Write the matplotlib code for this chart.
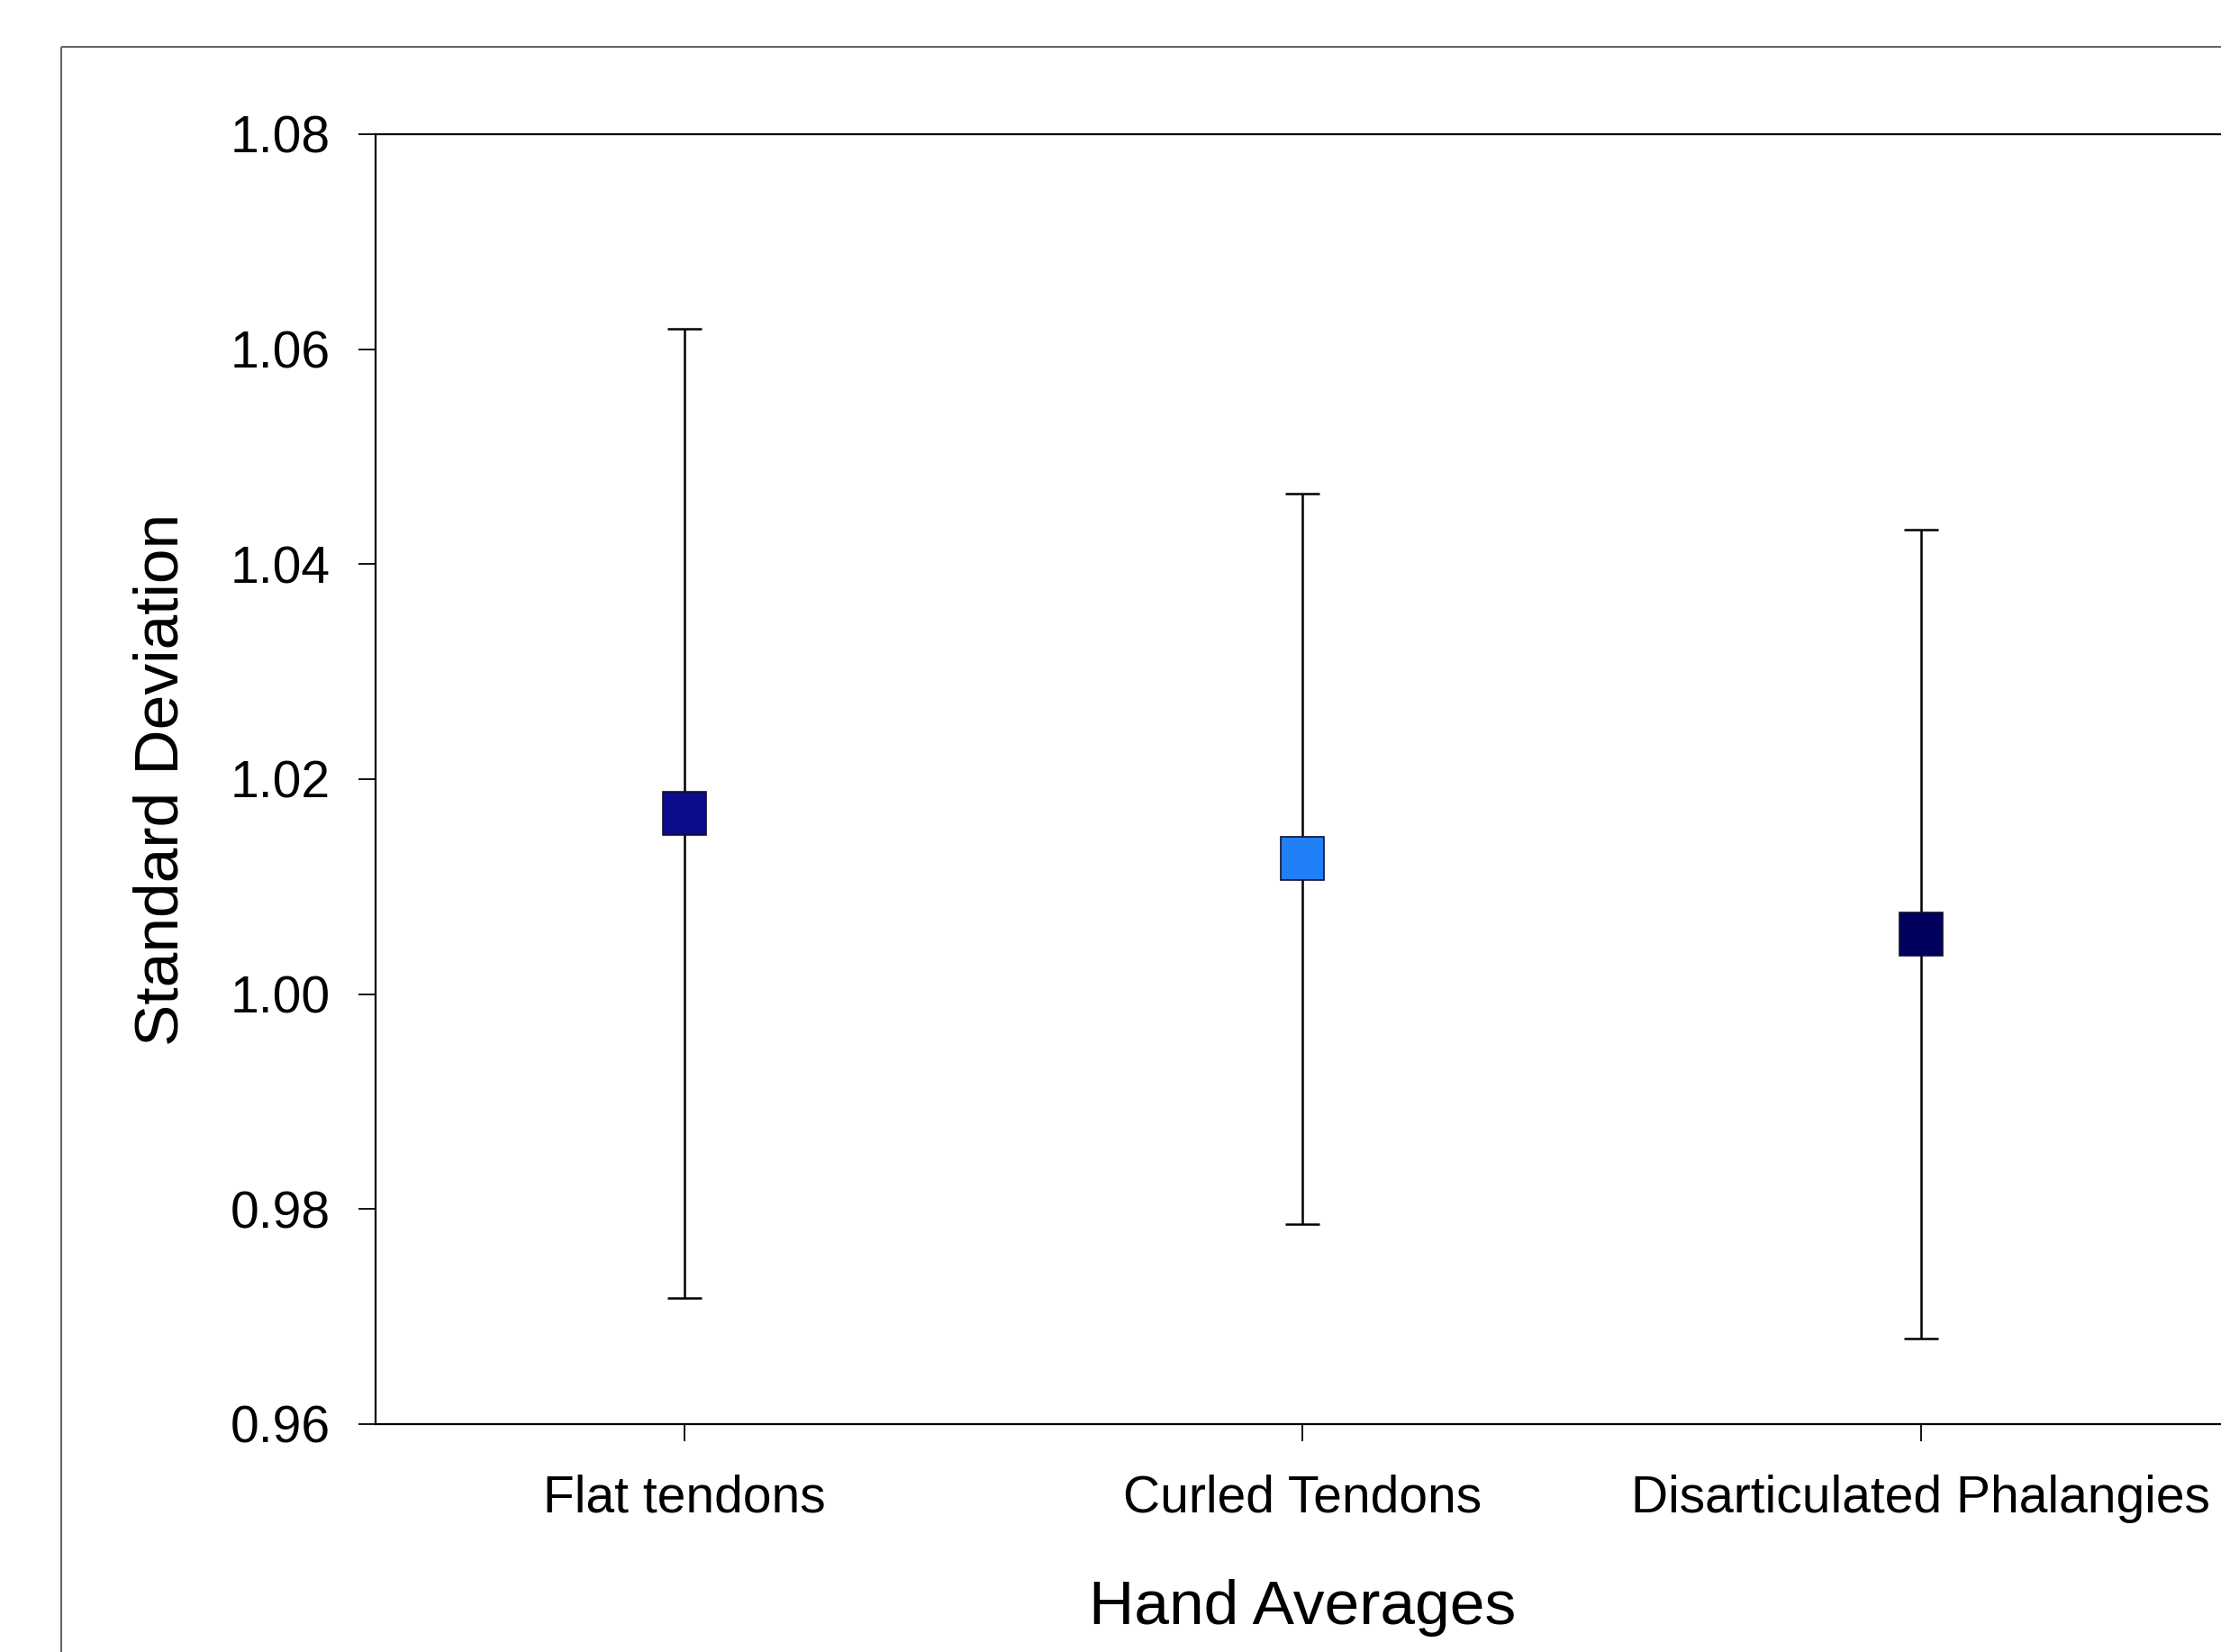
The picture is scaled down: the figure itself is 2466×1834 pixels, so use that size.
import matplotlib.pyplot as plt
from matplotlib.patches import Rectangle

# data
categories = ['Flat tendons', 'Curled Tendons', 'Disarticulated Phalangies']
means = [1.0168, 1.0126, 1.0056]
errors = [0.0451, 0.0340, 0.0376]
colors = ['#0b0b8c', '#1f80f8', '#00005e']
yticks = [0.96, 0.98, 1.00, 1.02, 1.04, 1.06, 1.08]

plt.rcParams['font.family'] = ['Liberation Sans', 'DejaVu Sans']

fig = plt.figure(figsize=(24.66, 18.34), dpi=100)

# outer frame around the plot (runs off the right and bottom edges)
W, H = 2466, 1834
frame = Rectangle((68 / W, 1 - 52 / H), 1.0, -1.2, transform=fig.transFigure,
                  fill=False, edgecolor='#666666', linewidth=1.5)
fig.patches.append(frame)

ax = fig.add_axes([417 / W, 1 - 1581 / H, 2059 / W, (1581 - 149) / H])

x = list(range(1, len(categories) + 1))
for xi, m, e, c in zip(x, means, errors, colors):
    ax.errorbar(xi, m, yerr=e, fmt='none', ecolor='black', elinewidth=1.8,
                capsize=14, capthick=1.8, zorder=2)
    ax.plot(xi, m, marker='s', markersize=34, markerfacecolor=c,
            markeredgecolor='#101030', markeredgewidth=1.2, linestyle='none', zorder=3)

ax.set_xlim(0.5, 3.5)
ax.set_ylim(0.96, 1.08)
ax.set_yticks(yticks)
ax.set_yticklabels([f'{v:.2f}' for v in yticks])
ax.set_xticks(x)
ax.set_xticklabels(categories)

ax.spines['right'].set_visible(False)
for s in ['left', 'top', 'bottom']:
    ax.spines[s].set_linewidth(1.6)
ax.tick_params(axis='both', direction='out', length=14, width=1.3, labelsize=41)
ax.tick_params(axis='y', pad=22)
ax.tick_params(axis='x', pad=26)

ax.set_ylabel('Standard Deviation', fontsize=50, labelpad=32)
ax.set_xlabel('Hand Averages', fontsize=50, labelpad=45)

fig.savefig('out.png', dpi=100)
